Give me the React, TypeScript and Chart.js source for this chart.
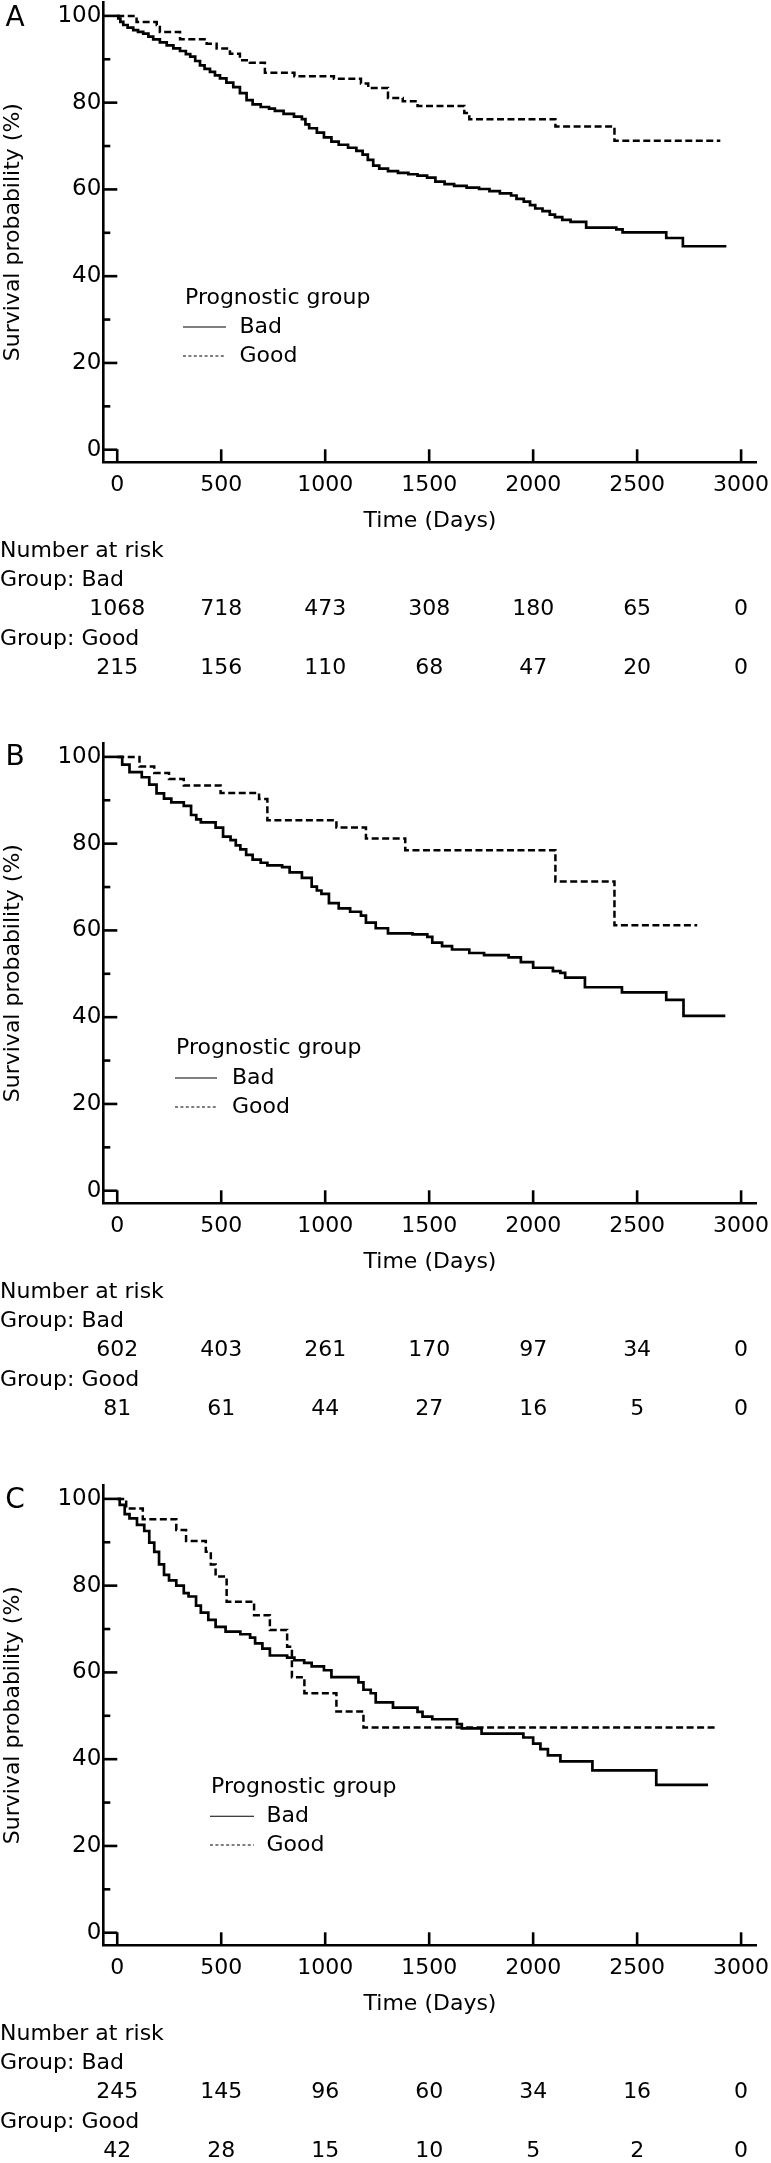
import React, { useEffect, useRef } from 'react';
import { Chart, registerables } from 'chart.js';

Chart.register(...registerables);

// ---------- data ----------
const X_TICKS = [0, 500, 1000, 1500, 2000, 2500, 3000];
const X_TICK_LABELS = ['0', '500', '1000', '1500', '2000', '2500', '3000'];
const Y_TICKS = [0, 20, 40, 60, 80, 100];
const Y_TICK_LABELS = ['0', '20', '40', '60', '80', '100'];
const Y_MINOR = [10, 30, 50, 70, 90];

const GROUPS = ['Bad', 'Good'];
const LEGEND_TITLE = 'Prognostic group';
const RISK_TITLE = 'Number at risk';
const RISK_GROUP_LABELS = ['Group: Bad', 'Group: Good'];
const X_TITLE = 'Time (Days)';
const Y_TITLE = 'Survival probability (%)';

type Pt = [number, number];

// Panel A
const A_BAD: Pt[] = [[0,100],[5,99.4],[15,98.6],[29,97.9],[50,97.3],[77,96.7],[100,96.3],[125,95.9],[150,95.2],[173,94.6],[205,93.9],[238,93.2],[270,92.5],[302,91.9],[330,91.2],[351,90.6],[375,89.6],[398,88.6],[420,87.8],[446,87.1],[470,86.3],[494,85.6],[525,84.6],[558,83.6],[590,82.2],[622,80.6],[651,79.6],[690,79.0],[730,78.6],[758,78.1],[800,77.4],[850,76.8],[888,76.2],[905,75.0],[923,74.1],[960,73.1],[994,72.0],[1030,71.0],[1065,70.3],[1110,69.6],[1150,68.9],[1180,68.0],[1205,66.8],[1231,65.5],[1260,64.8],[1302,64.2],[1350,63.8],[1400,63.5],[1444,63.2],[1490,62.7],[1530,61.8],[1574,61.2],[1620,60.8],[1680,60.4],[1740,60.1],[1790,59.6],[1840,59.1],[1894,58.6],[1920,57.8],[1955,57.2],[1985,56.4],[2010,55.6],[2045,55.0],[2080,54.2],[2105,53.6],[2140,53.0],[2180,52.5],[2255,51.2],[2400,50.8],[2430,50.1],[2640,48.8],[2720,46.9],[2929,46.9]];
const A_GOOD: Pt[] = [[0,100],[93,98.6],[190,97.9],[205,96.3],[302,94.6],[430,93.6],[478,92.5],[542,91.3],[590,89.8],[638,89.2],[710,86.9],[852,86.1],[1042,85.5],[1172,84.4],[1207,83.4],[1302,81.1],[1373,80.3],[1444,79.2],[1669,77.6],[1693,76.2],[2107,74.5],[2391,71.2],[2900,71.2]];
const A_RISK_BAD = [1068, 718, 473, 308, 180, 65, 0];
const A_RISK_GOOD = [215, 156, 110, 68, 47, 20, 0];

// Panel B
const B_BAD: Pt[] = [[0,100],[24,98.2],[59,96.5],[118,95.3],[154,93.6],[189,91.6],[225,90.4],[260,89.5],[320,88.7],[355,86.6],[380,85.6],[402,84.9],[473,83.7],[509,81.6],[545,80.8],[570,79.6],[592,78.7],[620,77.4],[651,76.3],[690,75.6],[722,75.0],[793,74.6],[829,73.4],[888,72.1],[935,70.1],[960,69.2],[982,68.4],[1018,66.3],[1065,65.1],[1120,64.3],[1172,63.4],[1196,61.8],[1243,60.5],[1302,59.3],[1420,59.1],[1491,58.5],[1515,57.2],[1562,56.4],[1610,55.6],[1693,54.8],[1764,54.3],[1882,53.8],[1941,52.7],[2000,51.4],[2095,50.6],[2131,50.2],[2154,49.1],[2249,46.9],[2427,45.7],[2640,44.0],[2723,40.3],[2924,40.3]];
const B_GOOD: Pt[] = [[0,100],[107,97.8],[178,96.3],[249,94.9],[320,93.4],[497,91.7],[682,90.3],[722,85.4],[1054,83.7],[1196,81.2],[1385,78.5],[2107,71.3],[2391,61.2],[2789,61.2]];
const B_RISK_BAD = [602, 403, 261, 170, 97, 34, 0];
const B_RISK_GOOD = [81, 61, 44, 27, 16, 5, 0];

// Panel C
const C_BAD: Pt[] = [[0,100],[12,98.6],[36,96.5],[59,95.5],[95,94.0],[130,92.6],[154,89.9],[178,87.8],[201,84.9],[225,82.5],[249,81.2],[284,80.0],[320,78.3],[343,77.5],[379,75.4],[402,73.8],[438,72.1],[473,70.5],[521,69.4],[592,68.8],[639,68.0],[663,66.7],[698,65.5],[734,63.9],[817,63.4],[852,62.8],[899,62.2],[935,61.4],[994,60.5],[1030,58.9],[1160,57.7],[1184,56.0],[1219,55.2],[1243,53.1],[1326,51.9],[1444,50.9],[1468,49.8],[1515,49.2],[1634,48.1],[1657,47.1],[1752,45.9],[1953,45.0],[2000,43.6],[2035,42.3],[2071,40.9],[2131,39.5],[2285,37.4],[2592,34.1],[2841,34.1]];
const C_GOOD: Pt[] = [[0,100],[43,97.8],[123,95.3],[284,92.8],[331,90.3],[426,87.8],[450,84.9],[473,82.1],[526,76.3],[658,73.2],[734,69.8],[817,65.9],[840,58.9],[900,55.2],[1054,51.0],[1184,47.3],[2888,47.3]];
const C_RISK_BAD = [245, 145, 96, 60, 34, 16, 0];
const C_RISK_GOOD = [42, 28, 15, 10, 5, 2, 0];

// ---------- layout / style ----------
const FONT = "'DejaVu Sans', sans-serif";
const FS = 22;
const FS_YTICK = 23;
const CANVAS_W = 771;
const CANVAS_H = 741;
const PAGE_H = 2163;
const AXIS_W = 2.6;
const RISK_ROWS_Y = [551.5, 580, 609.5, 639, 668];

interface LegendPos { titleX: number; titleY: number; lineX0: number; lineX1: number; textX: number; badY: number; goodY: number; }
interface PanelDef { letter: string; top: number; letterY: number; bad: Pt[]; good: Pt[]; riskBad: number[]; riskGood: number[]; legend: LegendPos; }

const PANELS: PanelDef[] = [
  { letter: 'A', top: 0, letterY: 19, bad: A_BAD, good: A_GOOD, riskBad: A_RISK_BAD, riskGood: A_RISK_GOOD,
    legend: { titleX: 185, titleY: 298, lineX0: 183, lineX1: 226, textX: 239.5, badY: 327, goodY: 356 } },
  { letter: 'B', top: 741, letterY: 16.5, bad: B_BAD, good: B_GOOD, riskBad: B_RISK_BAD, riskGood: B_RISK_GOOD,
    legend: { titleX: 176, titleY: 307.5, lineX0: 175, lineX1: 217, textX: 232, badY: 337, goodY: 366 } },
  { letter: 'C', top: 1483, letterY: 18, bad: C_BAD, good: C_GOOD, riskBad: C_RISK_BAD, riskGood: C_RISK_GOOD,
    legend: { titleX: 211, titleY: 304.7, lineX0: 210, lineX1: 254, textX: 266.5, badY: 333.3, goodY: 362 } },
];

function extrasPlugin(p: PanelDef) {
  return {
    id: 'kmExtras' + p.letter,
    afterDraw(chart: any) {
      const ctx: CanvasRenderingContext2D = chart.ctx;
      const a = chart.chartArea;
      const xs = chart.scales.x;
      const ys = chart.scales.y;
      const seg = (x0: number, y0: number, x1: number, y1: number) => {
        ctx.beginPath();
        ctx.moveTo(x0, y0);
        ctx.lineTo(x1, y1);
        ctx.stroke();
      };
      ctx.save();
      ctx.strokeStyle = '#000';
      ctx.fillStyle = '#000';
      ctx.lineCap = 'butt';
      // inward tick marks
      ctx.lineWidth = AXIS_W;
      Y_TICKS.forEach((v) => { const py = ys.getPixelForValue(v); seg(a.left, py, a.left + 14, py); });
      Y_MINOR.forEach((v) => { const py = ys.getPixelForValue(v); seg(a.left, py, a.left + 7, py); });
      X_TICKS.forEach((v) => { const px = xs.getPixelForValue(v); seg(px, a.bottom, px, a.bottom - 13); });

      // legend
      const L = p.legend;
      ctx.font = `${FS}px ${FONT}`;
      ctx.textBaseline = 'middle';
      ctx.textAlign = 'left';
      ctx.fillText(LEGEND_TITLE, L.titleX, L.titleY);
      ctx.lineWidth = 1.1;
      seg(L.lineX0, L.badY, L.lineX1, L.badY);
      ctx.setLineDash([3, 2.4]);
      seg(L.lineX0, L.goodY, L.lineX1, L.goodY);
      ctx.setLineDash([]);
      ctx.fillText(GROUPS[0], L.textX, L.badY);
      ctx.fillText(GROUPS[1], L.textX, L.goodY);

      // number at risk table
      ctx.textAlign = 'left';
      ctx.fillText(RISK_TITLE, 0, RISK_ROWS_Y[0]);
      ctx.fillText(RISK_GROUP_LABELS[0], 0, RISK_ROWS_Y[1]);
      ctx.fillText(RISK_GROUP_LABELS[1], 0, RISK_ROWS_Y[3]);
      ctx.textAlign = 'center';
      X_TICKS.forEach((t, i) => {
        const px = xs.getPixelForValue(t);
        ctx.fillText(String(p.riskBad[i]), px, RISK_ROWS_Y[2]);
        ctx.fillText(String(p.riskGood[i]), px, RISK_ROWS_Y[4]);
      });

      // panel letter
      ctx.font = `28px ${FONT}`;
      ctx.textAlign = 'center';
      ctx.fillText(p.letter, 15, p.letterY);
      ctx.restore();
    },
  };
}

function Panel({ p }: { p: PanelDef }) {
  const ref = useRef<HTMLCanvasElement | null>(null);
  useEffect(() => {
    if (!ref.current) return;
    const font = { family: FONT, size: FS };
    const chart = new Chart(ref.current, {
      type: 'line',
      data: {
        datasets: [
          {
            label: GROUPS[0],
            data: p.bad.map(([t, s]) => ({ x: t, y: s })),
            borderColor: '#000',
            borderWidth: 2.7,
            stepped: true,
            pointRadius: 0,
            fill: false,
            borderCapStyle: 'butt',
            borderJoinStyle: 'miter',
          },
          {
            label: GROUPS[1],
            data: p.good.map(([t, s]) => ({ x: t, y: s })),
            borderColor: '#000',
            borderWidth: 2.5,
            borderDash: [7, 3.5],
            stepped: true,
            pointRadius: 0,
            fill: false,
            borderCapStyle: 'butt',
            borderJoinStyle: 'miter',
          },
        ],
      },
      options: {
        animation: false,
        responsive: false,
        devicePixelRatio: 1,
        events: [],
        layout: { padding: { top: 2, right: 14.3, bottom: 198.7, left: 0 } },
        plugins: { legend: { display: false }, tooltip: { enabled: false } },
        scales: {
          x: {
            type: 'linear',
            min: -67,
            max: 3075,
            afterBuildTicks: (s: any) => { s.ticks = X_TICKS.map((v) => ({ value: v })); },
            afterFit: (s: any) => { s.height = 80; s.paddingLeft = 0; s.paddingRight = 0; },
            grid: { display: false, drawTicks: false },
            border: { display: true, color: '#000', width: AXIS_W },
            ticks: {
              font, color: '#000', padding: 9.5, autoSkip: false, maxRotation: 0,
              callback: (_v: any, i: number) => X_TICK_LABELS[i],
            },
            title: { display: true, text: X_TITLE, font, color: '#000', padding: { top: 0, bottom: 8 } },
          },
          y: {
            type: 'linear',
            min: -2.9,
            max: 103.2,
            afterBuildTicks: (s: any) => { s.ticks = Y_TICKS.map((v) => ({ value: v })); },
            afterFit: (s: any) => { s.width = 103.3; s.paddingTop = 0; s.paddingBottom = 0; },
            grid: { display: false, drawTicks: false },
            border: { display: true, color: '#000', width: AXIS_W },
            ticks: {
              font: { family: FONT, size: FS_YTICK }, color: '#000', padding: 2, autoSkip: false,
              callback: (_v: any, i: number) => Y_TICK_LABELS[i],
            },
            title: { display: true, text: Y_TITLE, font, color: '#000', padding: { top: 0, bottom: 0 } },
          },
        },
      } as any,
      plugins: [extrasPlugin(p)],
    } as any);
    return () => chart.destroy();
  }, [p]);
  return (
    <canvas
      ref={ref}
      width={CANVAS_W}
      height={CANVAS_H}
      style={{ position: 'absolute', left: 0, top: p.top, display: 'block' }}
    />
  );
}

export default function App() {
  useEffect(() => {
    document.body.style.margin = '0';
    document.body.style.overflow = 'hidden';
    document.body.style.background = '#fff';
  }, []);
  return (
    <div style={{ position: 'relative', width: CANVAS_W, height: PAGE_H, overflow: 'hidden', background: '#fff' }}>
      {PANELS.map((p) => (
        <Panel key={p.letter} p={p} />
      ))}
    </div>
  );
}
